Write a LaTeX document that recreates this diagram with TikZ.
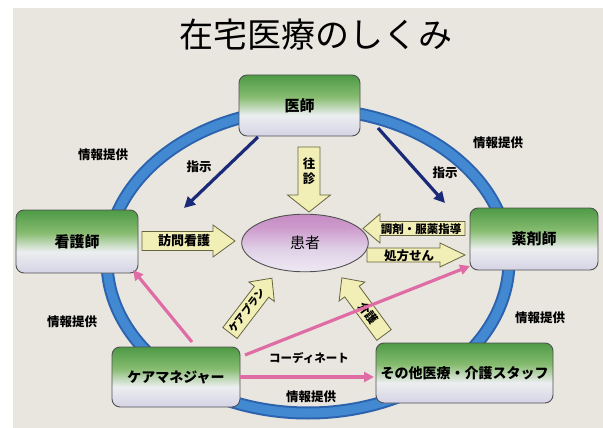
\documentclass[tikz,border=0pt]{standalone}
\usepackage{fontspec}
\setmainfont{Noto Sans CJK JP}
\usetikzlibrary{arrows.meta,shapes.geometric}
\definecolor{paper}{HTML}{E9E6DF}
\definecolor{ringdark}{HTML}{2C63AE}
\definecolor{ringlight}{HTML}{4289D2}
\definecolor{boxbot}{HTML}{D5D3E5}
\definecolor{boxmid}{HTML}{ECEEF0}
\definecolor{boxgreen}{HTML}{86BC70}
\definecolor{boxdark}{HTML}{4E9A46}
\definecolor{boxline}{HTML}{505050}
\definecolor{elbot}{HTML}{EEE9F3}
\definecolor{elmid}{HTML}{E0D0E7}
\definecolor{eltop}{HTML}{CE9BCD}
\definecolor{eltoptop}{HTML}{C68CC3}
\definecolor{yfill}{HTML}{F1EEB6}
\definecolor{yline}{HTML}{66653F}
\definecolor{navy}{HTML}{1B2A78}
\definecolor{pinkc}{HTML}{E06CA6}
\pgfdeclareverticalshading{boxshade}{100bp}{color(0bp)=(boxbot); color(25bp)=(boxbot); color(42bp)=(boxmid); color(57bp)=(boxgreen); color(75bp)=(boxdark); color(100bp)=(boxdark)}
\pgfdeclareverticalshading{ellshade}{100bp}{color(0bp)=(elbot); color(25bp)=(elbot); color(45bp)=(elmid); color(63bp)=(eltop); color(75bp)=(eltoptop); color(100bp)=(eltoptop)}
\newcommand\blockarrow[6]{% tail, angle, length, half body, half head, head length
  \begin{scope}[shift={#1},rotate=#2]
    \draw[yarrow] (0,#4) -- ({#3-#6},#4) -- ({#3-#6},#5) -- (#3,0) -- ({#3-#6},-#5) -- ({#3-#6},-#4) -- (0,-#4) -- cycle;
  \end{scope}}
\begin{document}
\begin{tikzpicture}[x=1pt,y=-1pt,
  boxnode/.style={shape=rectangle, rounded corners=8pt, draw=boxline, line width=0.9pt, shade, shading=boxshade, inner sep=0pt, font=\bfseries\fontsize{15}{15}\selectfont},
  ellnode/.style={shape=ellipse, draw=boxline, line width=0.9pt, shade, shading=ellshade, inner sep=0pt, font=\fontsize{15}{15}\selectfont},
  yarrow/.style={fill=yfill, draw=yline, line width=0.8pt, line join=miter},
  arrtext/.style={inner sep=0pt, font=\bfseries\fontsize{#1}{#1}\selectfont},
  arrtext/.default=12.5,
  lbl/.style={inner sep=0pt, font=\bfseries\fontsize{12.5}{13}\selectfont},
  navyarrow/.style={draw=navy, line width=3.2pt, -{Triangle[length=11pt,width=11pt]}},
  pinkarrow/.style={draw=pinkc, line width=3.2pt, -{Triangle[length=10pt,width=10pt]}}]
\useasboundingbox (0,0) rectangle (603,428);
\fill[white] (0,0) rectangle (603,428);
\fill[paper] (13,8) rectangle (603,428);
% ring
\draw[ringdark, line width=13pt] (308,261) ellipse [x radius=201pt, y radius=152pt];
\draw[ringlight, line width=9pt] (308,261) ellipse [x radius=201pt, y radius=152pt];
% title
\node[inner sep=0pt, font=\fontsize{34}{34}\selectfont] (title) at (316,35) {在宅医療のしくみ};
% boxes
\node[boxnode, minimum width=121pt, minimum height=61pt] (ishi) at (299.5,105.5) {医師};
\node[boxnode, minimum width=122pt, minimum height=63pt] (kango) at (77,241.5) {看護師};
\node[boxnode, minimum width=128pt, minimum height=62pt] (yaku) at (534,239) {薬剤師};
\node[boxnode, minimum width=128pt, minimum height=60pt, font=\bfseries\fontsize{14}{14}\selectfont] (care) at (176,377) {ケアマネジャー};
\node[boxnode, minimum width=177pt, minimum height=60pt, font=\bfseries\fontsize{14}{14}\selectfont] (sonota) at (464.5,373) {その他医療・介護スタッフ};
% patient
\node[ellnode, minimum width=126.6pt, minimum height=57.6pt] (kanja) at (305,243) {患者};
% block arrows
\blockarrow{(309,147)}{-90}{65}{11}{21.5}{17}
\node[arrtext=12.5, align=center, font=\bfseries\fontsize{12.5}{15}\selectfont] (oushin) at (309,171) {往\\診};
\blockarrow{(142,241)}{0}{93}{9.5}{16}{22}
\node[arrtext=13] (houmon) at (184,241) {訪問看護};
\blockarrow{(465,228.5)}{180}{102}{7}{14.5}{17}
\node[arrtext=11.5] (chouzai) at (421,229) {調剤・服薬指導};
\blockarrow{(367,255)}{0}{98}{7}{12}{25}
\node[arrtext=12.5] (shohou) at (409,256) {処方せん};
\blockarrow{(230,333)}{52.6}{69}{9}{16}{17}
\node[arrtext=10.5, rotate=52.6] (careplan) at (247,310) {ケアプラン};
\blockarrow{(384,335)}{126.4}{71}{9}{16}{17}
\node[arrtext=12, rotate=-53.6] (kaigo) at (368,313) {介護};
% navy arrows (instructions)
\coordinate (nl0) at (258,137); \coordinate (nl1) at (184,208);
\coordinate (nr0) at (378,128); \coordinate (nr1) at (445,203);
\draw[navyarrow] (nl0) -- (nl1);
\draw[navyarrow] (nr0) -- (nr1);
% pink arrows
\coordinate (p1s) at (192,342); \coordinate (p1e) at (133,270);
\coordinate (p2s) at (245,355); \coordinate (p2e) at (470,266);
\coordinate (p3s) at (240,377); \coordinate (p3e) at (374,377);
\draw[pinkarrow] (p1s) -- (p1e);
\draw[pinkarrow] (p2s) -- (p2e);
\draw[pinkarrow] (p3s) -- (p3e);
% labels
\node[lbl] (j1) at (103,155) {情報提供};
\node[lbl] (s1) at (199,167) {指示};
\node[lbl] (j2) at (498,143) {情報提供};
\node[lbl] (s2) at (445,173) {指示};
\node[lbl] (j3) at (72,322) {情報提供};
\node[lbl] (j4) at (540,318) {情報提供};
\node[lbl, font=\bfseries\fontsize{11.5}{12}\selectfont] (coord) at (309,358) {コーディネート};
\node[lbl] (j5) at (311,397) {情報提供};
\end{tikzpicture}
\end{document}
